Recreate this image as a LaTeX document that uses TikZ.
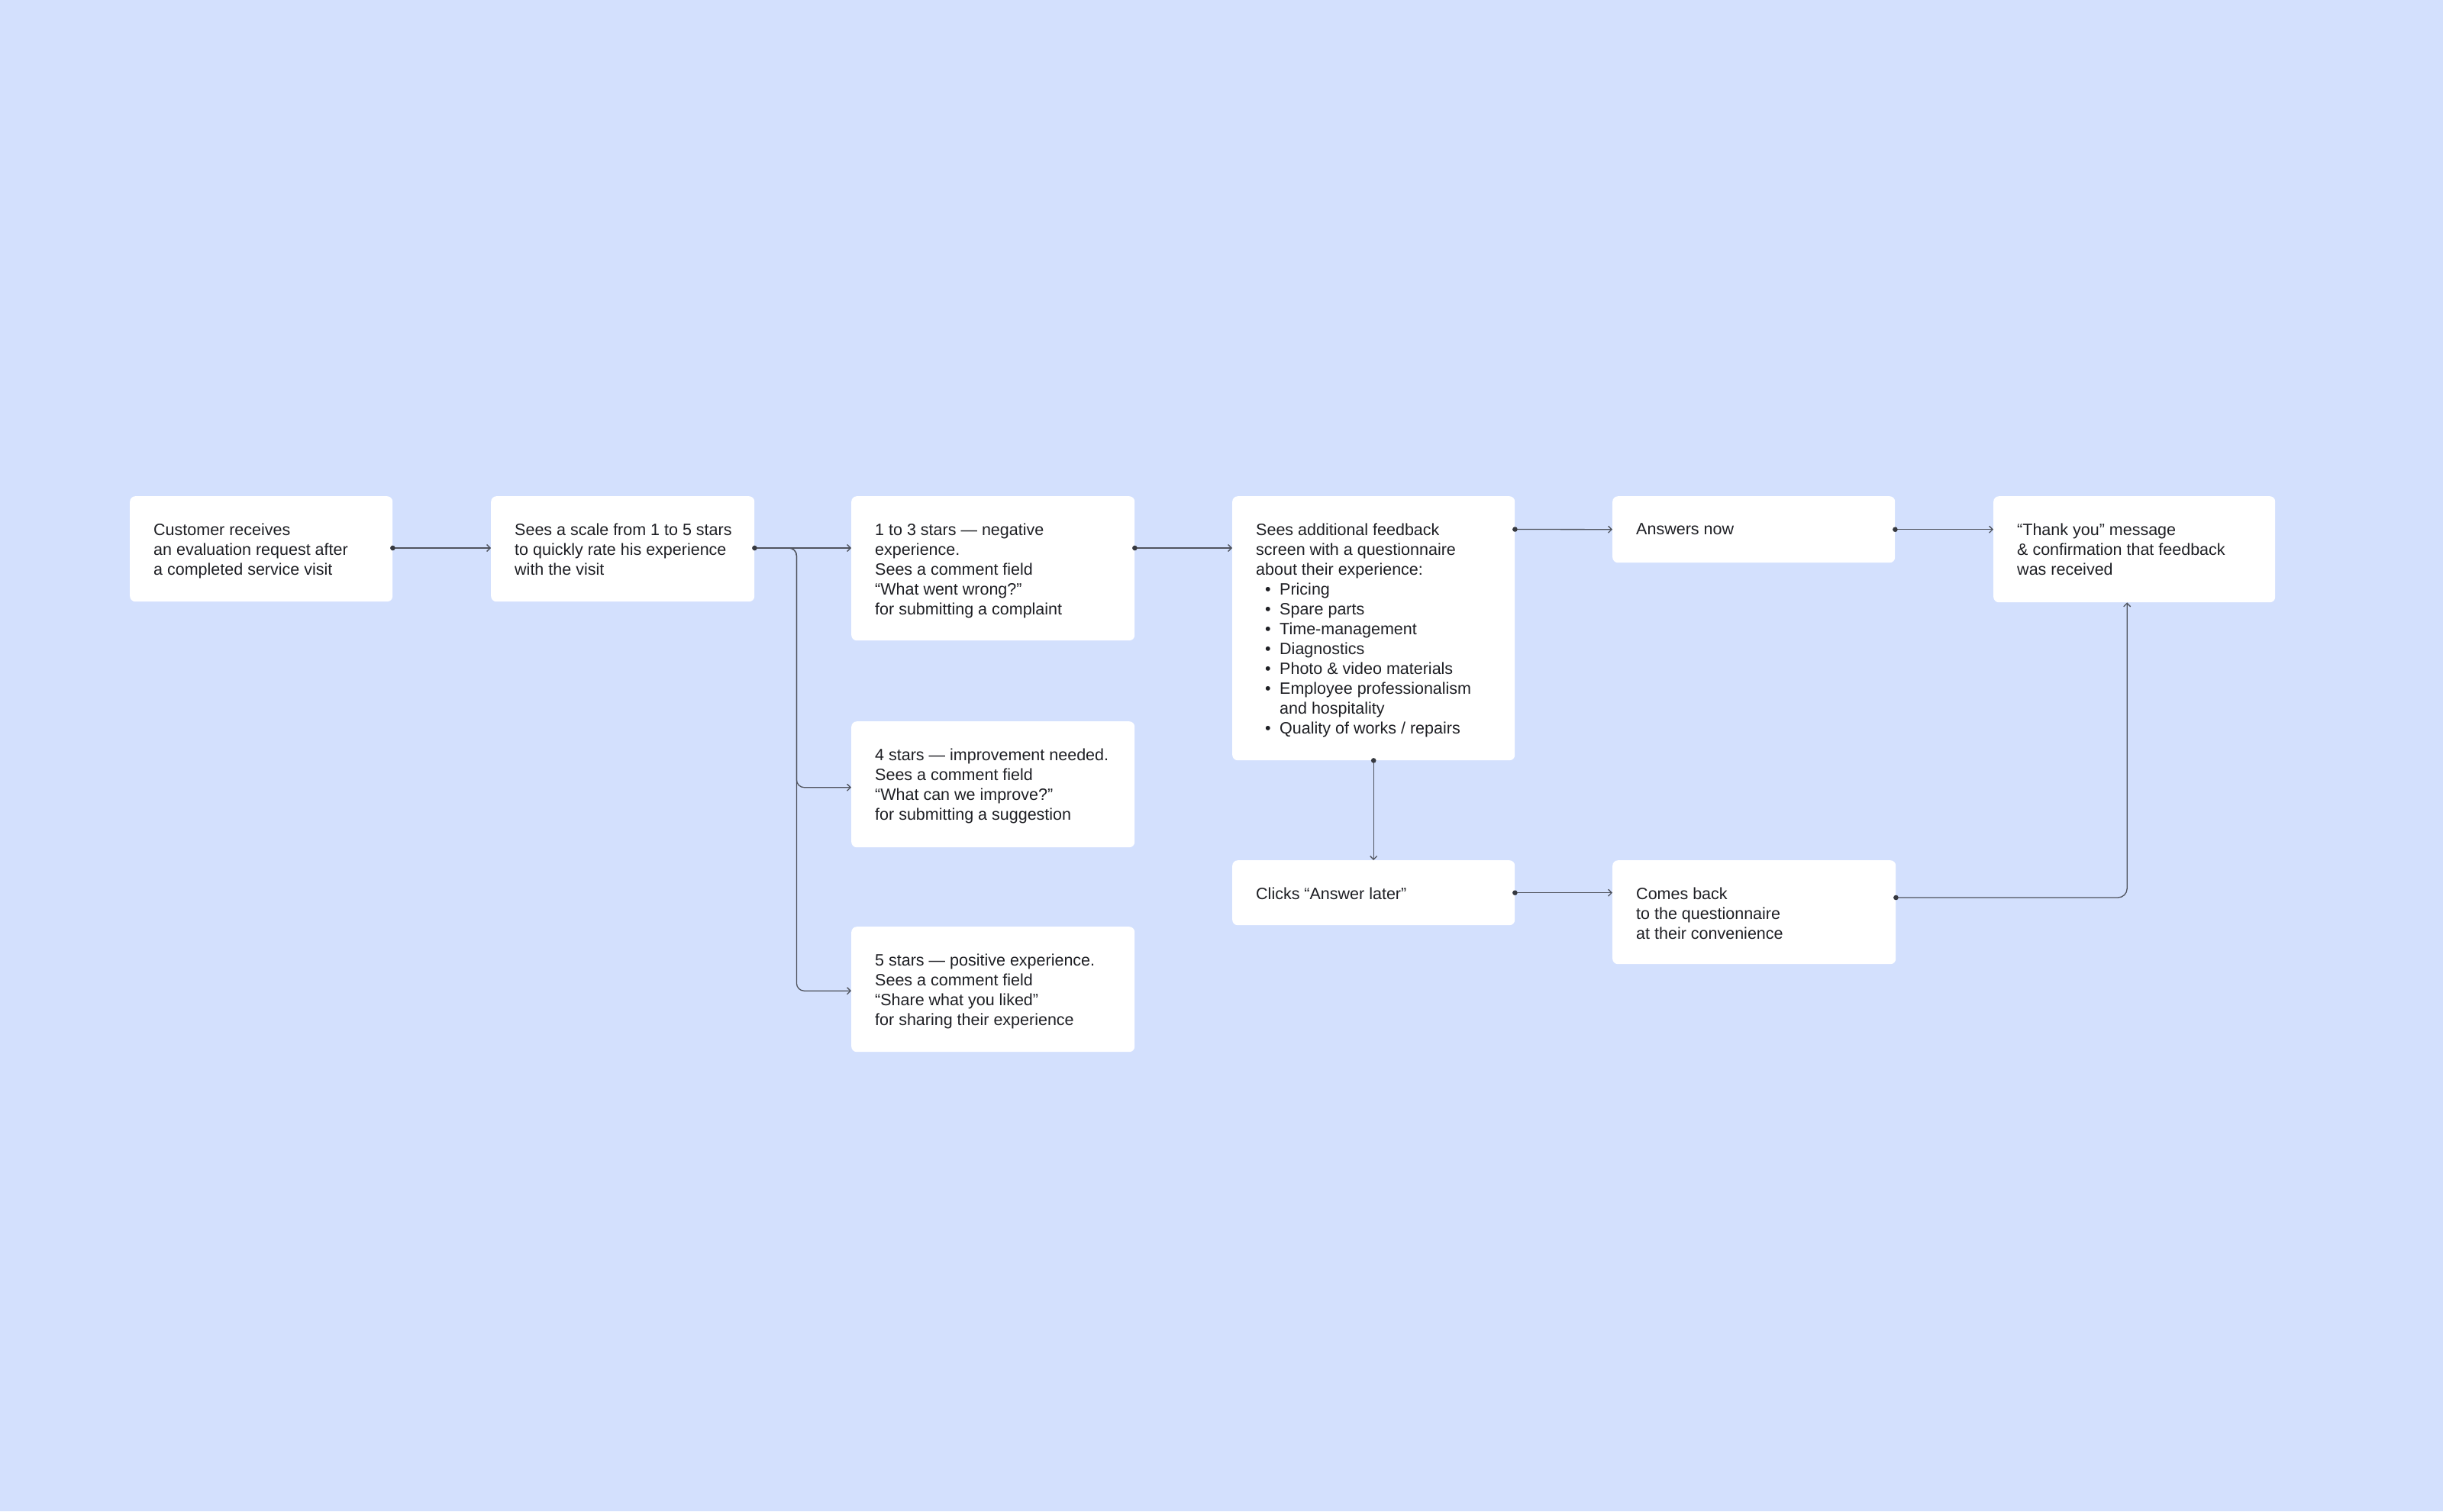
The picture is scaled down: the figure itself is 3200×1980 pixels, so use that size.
\documentclass[tikz,border=0pt]{standalone}
\usepackage{fontspec}
\setmainfont{Liberation Sans}
\usetikzlibrary{arrows.meta}
\definecolor{bgc}{HTML}{D3E0FD}
\definecolor{txtc}{HTML}{1E1F24}
\definecolor{linec}{HTML}{50545E}
\definecolor{dotc}{HTML}{363940}
\tikzset{
  box/.style={fill=white, draw=none, rounded corners=7pt, inner sep=0pt, anchor=north west},
  txt/.style={inner sep=0pt, anchor=north west, align=left, text=txtc,
              font=\fontsize{21.5}{26}\selectfont},
  conn/.style={draw=linec, line width=1.3pt, -{Straight Barb[length=4.5pt,width=9pt,line width=1.3pt]}},
  dotmark/.style={fill=dotc},
}
\newcommand{\itm}{\makebox[31pt][l]{\hspace*{12pt}•}}
\begin{document}
\begin{tikzpicture}[x=1pt,y=-1pt]
\fill[bgc] (0,0) rectangle (3200,1980);
\useasboundingbox (0,0) rectangle (3200,1980);

% boxes
\node[box, minimum width=344pt, minimum height=138pt] (b1) at (170,650) {};
\node[box, minimum width=345pt, minimum height=138pt] (b2) at (643,650) {};
\node[box, minimum width=371pt, minimum height=189pt] (b3) at (1115,650) {};
\node[box, minimum width=371pt, minimum height=165pt] (b4) at (1115,945) {};
\node[box, minimum width=371pt, minimum height=164pt] (b5) at (1115,1214) {};
\node[box, minimum width=370pt, minimum height=346pt] (b6) at (1614,650) {};
\node[box, minimum width=370pt, minimum height=85pt] (b7) at (1614,1127) {};
\node[box, minimum width=370pt, minimum height=87pt] (b8) at (2112,650) {};
\node[box, minimum width=371pt, minimum height=136pt] (b9) at (2112,1127) {};
\node[box, minimum width=369pt, minimum height=139pt] (b10) at (2611,650) {};

% texts
\node[txt] (t1) at ([xshift=31pt,yshift=-36pt]b1.north west)
  {Customer receives\\an evaluation request after\\a completed service visit};
\node[txt] (t2) at ([xshift=31pt,yshift=-36pt]b2.north west)
  {Sees a scale from 1 to 5 stars\\to quickly rate his experience\\with the visit};
\node[txt] (t3) at ([xshift=31pt,yshift=-36pt]b3.north west)
  {1 to 3 stars — negative\\experience.\\Sees a comment field\\“What went wrong?”\\for submitting a complaint};
\node[txt] (t4) at ([xshift=31pt,yshift=-36pt]b4.north west)
  {4 stars — improvement needed.\\Sees a comment field\\“What can we improve?”\\for submitting a suggestion};
\node[txt] (t5) at ([xshift=31pt,yshift=-36pt]b5.north west)
  {5 stars — positive experience.\\Sees a comment field\\“Share what you liked”\\for sharing their experience};
\node[txt] (t6) at ([xshift=31pt,yshift=-36pt]b6.north west)
  {Sees additional feedback\\screen with a questionnaire\\about their experience:\\
   \itm Pricing\\\itm Spare parts\\\itm Time-management\\\itm Diagnostics\\
   \itm Photo \& video materials\\\itm Employee professionalism\\
   \hspace*{31pt}and hospitality\\\itm Quality of works / repairs};
\node[txt] (t7) at ([xshift=31pt,yshift=-36pt]b7.north west)
  {Clicks “Answer later”};
\node[txt] (t8) at ([xshift=31pt,yshift=-36pt]b8.north west)
  {Answers now};
\node[txt] (t9) at ([xshift=31pt,yshift=-36pt]b9.north west)
  {Comes back\\to the questionnaire\\at their convenience};
\node[txt] (t10) at ([xshift=31pt,yshift=-36pt]b10.north west)
  {“Thank you” message\\\& confirmation that feedback\\was received};

% named connector points
\coordinate (p3) at ([yshift=-68pt]b3.north east);
\coordinate (p6in) at ([yshift=-68pt]b6.north west);
\coordinate (p6out) at ([yshift=-43.5pt]b6.north east);
\coordinate (p9out) at ([yshift=-49pt]b9.north east);
\coordinate (p10in) at ([xshift=-9.5pt]b10.south);
\coordinate (p2out) at ([yshift=-68pt]b2.north east);
\coordinate (p2in) at ([yshift=-68pt]b2.north west);
\coordinate (p4in) at ([yshift=-4pt]b4.west);
\coordinate (p5in) at ([yshift=-2pt]b5.west);

% connectors
\draw[conn] (b1.east |- p2in) -- (p2in);
\draw[conn] (p2out) -- (p2out -| b3.west);
\draw[conn, rounded corners=10pt] (p2out) -- ++(55,0) |- (p4in);
\draw[conn, rounded corners=10pt] (p2out) -- ++(55,0) |- (p5in);
\draw[conn] (p3) -- (p6in);
\draw[conn] (p6out) -- (b8.west);
\draw[conn] (b8.east) -- (b8.east -| b10.west);
\draw[conn] (b6.south) -- (b7.north);
\draw[conn] (b7.east) -- (b7.east -| b9.west);
\draw[conn, rounded corners=12pt] (p9out) -| (p10in);

% start dots
\fill[dotmark] (b1.east |- p2in) circle (3.3pt);
\fill[dotmark] (p2out) circle (3.3pt);
\fill[dotmark] (p3) circle (3.3pt);
\fill[dotmark] (p6out) circle (3.3pt);
\fill[dotmark] (b8.east) circle (3.3pt);
\fill[dotmark] (b6.south) circle (3.3pt);
\fill[dotmark] (b7.east) circle (3.3pt);
\fill[dotmark] (p9out) circle (3.3pt);
\end{tikzpicture}
\end{document}
